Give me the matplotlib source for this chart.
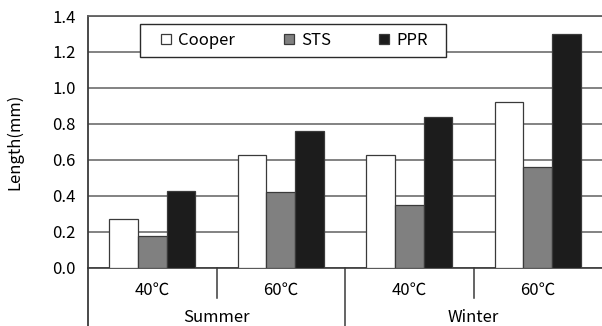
import matplotlib
matplotlib.use('Agg')
import matplotlib.pyplot as plt
from matplotlib.patches import Rectangle
import numpy as np

plt.rcParams['font.family'] = ['Noto Sans CJK KR', 'DejaVu Sans']

# data
temps = ['40℃', '60℃', '40℃', '60℃']
seasons = ['Summer', 'Winter']
series = ['Cooper', 'STS', 'PPR']
cooper = [0.27, 0.63, 0.63, 0.92]
sts = [0.18, 0.42, 0.35, 0.56]
ppr = [0.43, 0.76, 0.84, 1.30]
yticks = [0.0, 0.2, 0.4, 0.6, 0.8, 1.0, 1.2, 1.4]

colors = ['white', '#808080', '#1c1c1c']
fs = 12

fig = plt.figure(figsize=(6.02, 3.26), dpi=100)
ax = fig.add_axes([88/602, 1-268/326, 1-88/602, 252/326])

x = np.arange(len(temps))
w = 0.223
for i, (name, vals) in enumerate(zip(series, [cooper, sts, ppr])):
    ax.bar(x + (i-1)*w, vals, w, color=colors[i], edgecolor='#3a3a3a',
           linewidth=0.9, label=name, zorder=3)

ax.set_xlim(-0.5, 3.5)
ax.set_ylim(0, 1.4)
ax.set_yticks(yticks)
ax.set_yticklabels(['%.1f' % v for v in yticks], fontsize=fs)
ax.tick_params(axis='y', length=0, pad=9)
ax.set_xticks([])
ax.yaxis.grid(True, color='#606060', linewidth=1.1, zorder=0)
ax.set_axisbelow(True)

ax.spines['right'].set_visible(False)
ax.spines['top'].set_color('#606060')
ax.spines['top'].set_linewidth(1.3)
ax.spines['left'].set_color('#3a3a3a')
ax.spines['left'].set_linewidth(1.3)
ax.spines['bottom'].set_color('#3a3a3a')
ax.spines['bottom'].set_linewidth(1.2)

ax.set_ylabel('Length(mm)', fontsize=fs)
ax.yaxis.set_label_coords(-0.126, 0.5)

# category axis below
tr = ax.get_xaxis_transform()
ax.plot([-0.5, -0.5], [0, -0.24], color='#3a3a3a', lw=1.3, transform=tr, clip_on=False)
for b in [0.5, 2.5]:
    ax.plot([b, b], [0, -0.119], color='#3a3a3a', lw=1.1, transform=tr, clip_on=False)
ax.plot([1.5, 1.5], [0, -0.24], color='#3a3a3a', lw=1.1, transform=tr, clip_on=False)
for xi, t in zip(x, temps):
    ax.text(xi, -0.087, t, transform=tr, ha='center', va='center', fontsize=fs)
for xi, s in zip([0.5, 2.5], seasons):
    ax.text(xi, -0.198, s, transform=tr, ha='center', va='center', fontsize=fs)

# legend box
ax.add_patch(Rectangle((0.101, 0.837), 0.596, 0.131, transform=ax.transAxes,
                       facecolor='white', edgecolor='#2a2a2a', linewidth=1.0,
                       zorder=4, clip_on=False))
leg = ax.legend(ncol=3, loc='center left', bbox_to_anchor=(0.142, 0.837, 0.52, 0.131),
                mode='expand', fontsize=fs, frameon=False,
                handlelength=0.6, handleheight=0.6, handletextpad=0.45,
                borderaxespad=0, borderpad=0)
leg.set_zorder(5)

fig.savefig('out.png', dpi=100)
